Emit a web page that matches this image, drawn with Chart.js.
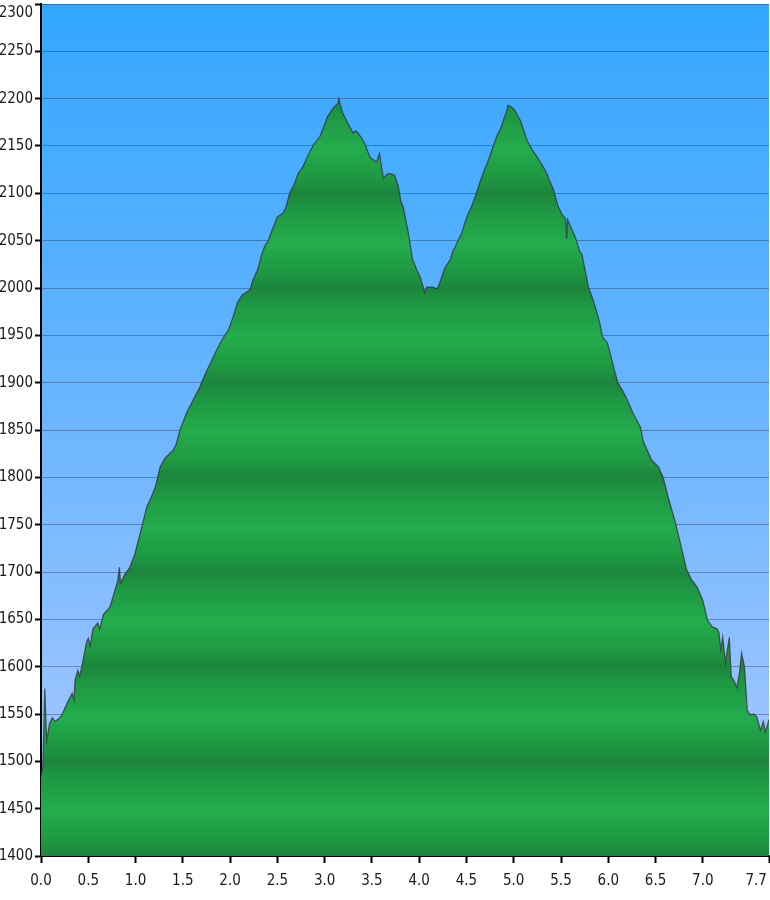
<!DOCTYPE html>
<html>
<head>
<meta charset="utf-8">
<script src="https://cdn.jsdelivr.net/npm/chart.js@4/dist/chart.umd.min.js"></script>
<style>
    html, body { margin: 0; padding: 0; background: #fff; }
    #wrap { width: 770px; height: 900px; }
</style>
</head>
<body>
<div id="wrap"><canvas id="chart"></canvas></div>
<script>
// distance (km) and elevation (m)
const distances = [0.00, 0.02, 0.04, 0.06, 0.09, 0.12, 0.15, 0.20, 0.23, 0.28, 0.33, 0.35, 0.36, 0.39, 0.41, 0.44,
    0.48, 0.50, 0.52, 0.55, 0.60, 0.62, 0.66, 0.73, 0.78, 0.81, 0.83, 0.84, 0.89, 0.94, 0.99, 1.05, 1.12, 1.17,
    1.21, 1.26, 1.31, 1.40, 1.43, 1.47, 1.54, 1.61, 1.68, 1.71, 1.75, 1.79, 1.86, 1.93, 1.98, 2.03, 2.08, 2.13,
    2.21, 2.24, 2.29, 2.34, 2.37, 2.40, 2.44, 2.50, 2.56, 2.59, 2.63, 2.68, 2.72, 2.77, 2.81, 2.88, 2.95, 2.99,
    3.03, 3.09, 3.14, 3.15, 3.17, 3.19, 3.24, 3.30, 3.33, 3.35, 3.40, 3.43, 3.48, 3.52, 3.55, 3.58, 3.62, 3.66,
    3.69, 3.74, 3.78, 3.81, 3.83, 3.88, 3.93, 3.98, 4.01, 4.06, 4.08, 4.14, 4.19, 4.22, 4.27, 4.33, 4.36, 4.38,
    4.41, 4.45, 4.48, 4.52, 4.55, 4.59, 4.64, 4.69, 4.72, 4.75, 4.77, 4.82, 4.86, 4.89, 4.92, 4.94, 4.98, 5.01,
    5.07, 5.10, 5.14, 5.19, 5.25, 5.30, 5.35, 5.38, 5.42, 5.47, 5.51, 5.55, 5.56, 5.57, 5.65, 5.70, 5.72, 5.79,
    5.84, 5.88, 5.91, 5.94, 5.99, 6.02, 6.06, 6.10, 6.15, 6.20, 6.26, 6.34, 6.37, 6.41, 6.46, 6.53, 6.58, 6.63,
    6.71, 6.77, 6.83, 6.88, 6.94, 7.00, 7.05, 7.10, 7.15, 7.17, 7.19, 7.21, 7.24, 7.28, 7.30, 7.33, 7.36, 7.39,
    7.41, 7.44, 7.47, 7.50, 7.54, 7.57, 7.61, 7.64, 7.66, 7.68, 7.70];
const elevations = [1485, 1495, 1577, 1522, 1540, 1546, 1542, 1546, 1551, 1562, 1572, 1565, 1586, 1596, 1590, 1604,
    1625, 1630, 1622, 1640, 1646, 1640, 1655, 1663, 1680, 1690, 1705, 1688, 1698, 1705, 1718, 1741, 1769, 1780,
    1790, 1811, 1820, 1829, 1835, 1850, 1868, 1882, 1895, 1903, 1912, 1920, 1935, 1948, 1955, 1969, 1985, 1993,
    1998, 2008, 2019, 2037, 2045, 2049, 2060, 2075, 2079, 2085, 2100, 2110, 2121, 2128, 2137, 2151, 2160, 2170,
    2181, 2190, 2195, 2200, 2192, 2185, 2175, 2164, 2166, 2164, 2157, 2151, 2138, 2135, 2133, 2142, 2116, 2120,
    2121, 2119, 2107, 2090, 2086, 2061, 2030, 2018, 2012, 1995, 2001, 2001, 1999, 2006, 2021, 2030, 2040, 2043,
    2050, 2058, 2068, 2079, 2085, 2096, 2111, 2125, 2132, 2140, 2146, 2160, 2168, 2177, 2185, 2193, 2191, 2188,
    2177, 2168, 2156, 2147, 2138, 2130, 2121, 2113, 2104, 2086, 2078, 2073, 2052, 2072, 2054, 2038, 2036, 2001,
    1987, 1974, 1963, 1948, 1942, 1931, 1915, 1900, 1892, 1882, 1868, 1853, 1838, 1829, 1818, 1811, 1800, 1780,
    1752, 1727, 1702, 1692, 1684, 1670, 1649, 1642, 1640, 1636, 1618, 1631, 1604, 1631, 1590, 1585, 1578, 1595,
    1614, 1600, 1554, 1549, 1550, 1547, 1533, 1542, 1531, 1537, 1544];

const xTicks = [0.0, 0.5, 1.0, 1.5, 2.0, 2.5, 3.0, 3.5, 4.0, 4.5, 5.0, 5.5, 6.0, 6.5, 7.0, 7.7];
const yMin = 1400;
const yMax = 2300;
const yStep = 50;

const points = distances.map((d, i) => ({ x: d, y: elevations[i] }));

// sky behind the plot
const skyPlugin = {
    id: 'sky',
    beforeDraw(chart) {
        const { ctx, chartArea } = chart;
        if (!chartArea) return;
        const g = ctx.createLinearGradient(0, chartArea.top, 0, chartArea.bottom);
        g.addColorStop(0, '#33a7ff');
        g.addColorStop(0.5, '#6db6ff');
        g.addColorStop(1, '#afcaff');
        ctx.save();
        ctx.fillStyle = g;
        ctx.fillRect(chartArea.left, chartArea.top, chartArea.right - chartArea.left, chartArea.bottom - chartArea.top);
        ctx.restore();
    }
};

// banded green fill, one band every 100 m
function bandedGreen(context) {
    const chart = context.chart;
    const area = chart.chartArea;
    if (!area) return '#22a84a';
    const g = chart.ctx.createLinearGradient(0, area.bottom, 0, area.top);
    const span = yMax - yMin;
    for (let v = yMin; v <= yMax; v += 100) {
        g.addColorStop((v - yMin) / span, '#1b853c');
        if (v + 15 <= yMax) g.addColorStop((v + 15 - yMin) / span, '#1e9742');
        if (v + 50 <= yMax) g.addColorStop((v + 48 - yMin) / span, '#23ad4c');
        if (v + 52 <= yMax) g.addColorStop((v + 52 - yMin) / span, '#22aa4b');
        if (v + 85 <= yMax) g.addColorStop((v + 85 - yMin) / span, '#1e9642');
    }
    return g;
}

const ctx = document.getElementById('chart').getContext('2d');
const myChart = new Chart(ctx, {
    type: 'line',
    data: {
        datasets: [{
            label: 'Elevation',
            data: points,
            fill: 'start',
            backgroundColor: bandedGreen,
            borderColor: 'rgba(50, 50, 55, 0.75)',
            borderWidth: 1.3,
            pointRadius: 0,
            tension: 0
        }]
    },
    options: {
        responsive: true,
        maintainAspectRatio: false,
        animation: false,
        layout: {
            padding: { top: 4, right: 1, left: 0, bottom: 0 }
        },
        plugins: {
            legend: { display: false },
            tooltip: { enabled: false }
        },
        scales: {
            x: {
                type: 'linear',
                min: 0,
                max: 7.7,
                z: 1,
                afterBuildTicks: function(scale) {
                    scale.ticks = xTicks.map(v => ({ value: v }));
                },
                afterFit: function(scale) {
                    scale.height = 44;
                    scale.paddingLeft = 0;
                    scale.paddingRight = 0;
                },
                border: { color: '#000', width: 2 },
                grid: {
                    display: true,
                    drawOnChartArea: false,
                    drawTicks: true,
                    tickLength: 7,
                    tickColor: '#000',
                    tickWidth: 2
                },
                ticks: {
                    autoSkip: false,
                    maxRotation: 0,
                    padding: 9,
                    color: '#1a1a1a',
                    font: { family: 'DejaVu Sans Condensed', size: 15 },
                    callback: function(value) {
                        return value === 7.7 ? '7.7      ' : value.toFixed(1);
                    }
                }
            },
            y: {
                min: yMin,
                max: yMax,
                z: 1,
                afterFit: function(scale) {
                    scale.width = 41;
                    scale.paddingTop = 0;
                    scale.paddingBottom = 0;
                },
                border: { color: '#000', width: 2 },
                grid: {
                    color: 'rgba(30, 50, 85, 0.4)',
                    lineWidth: 1,
                    drawTicks: true,
                    tickLength: 6,
                    tickColor: '#000',
                    tickWidth: 2
                },
                ticks: {
                    stepSize: yStep,
                    padding: 2,
                    color: '#1a1a1a',
                    font: { family: 'DejaVu Sans Condensed', size: 15 },
                    callback: function(value) {
                        // top label sits just under the edge
                        return value === yMax ? ['', String(value)] : String(value);
                    }
                }
            }
        }
    },
    plugins: [skyPlugin]
});
</script>
</body>
</html>
